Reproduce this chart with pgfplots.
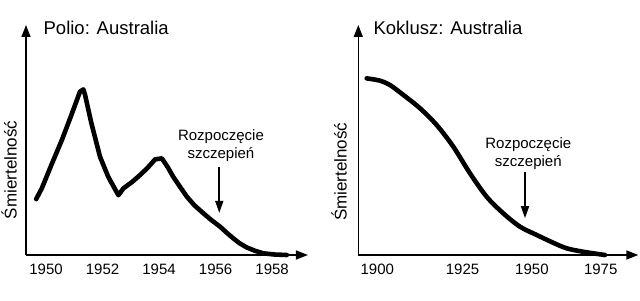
\documentclass[border=0pt]{standalone}
\usepackage{fontspec}
\setmainfont{Liberation Sans}
\usepackage{pgfplots}
\pgfplotsset{compat=1.18}
\usetikzlibrary{arrows.meta}

\tikzset{
  curve/.style={black, line width=4.6pt, line join=round, line cap=round},
  note/.style={font=\fontsize{15}{18}\selectfont, align=center},
  pointer/.style={line width=1.6pt, -{Triangle[length=12pt,width=8pt]}},
}
\pgfplotsset{
  sketch/.style={
    scale only axis,
    axis lines=left,
    axis line style={line width=1.6pt, -{Triangle[length=12pt,width=9pt]}},
    ytick=\empty,
    major tick length=0pt,
    ymin=0, ymax=100,
    height=230pt,
    tick label style={font=\fontsize{15}{18}\selectfont},
    xticklabel style={yshift=-5pt},
    /pgf/number format/assume math mode=true,
    /pgf/number format/1000 sep={},
    ylabel={Śmiertelność},
    ylabel style={font=\fontsize{17}{20}\selectfont, anchor=center},
    clip=false,
  },
}

\begin{document}
\begin{tikzpicture}
\useasboundingbox (0pt,0pt) rectangle (640pt,300pt);

% Polio
\begin{axis}[sketch,
  at={(26pt,45pt)}, anchor=south west,
  width=282pt,
  xmin=1949.29, xmax=1959.27,
  xtick={1950,1952,1954,1956,1958},
  ylabel style={at={(axis description cs:-0.06,0.37)}},
]
\addplot[curve, sharp plot] coordinates {
  (1949.65,24.3) (1949.85,29.0) (1950.20,39.5) (1950.56,50.0) (1950.90,61.0)
  (1951.20,71.0) (1951.32,72.0) (1951.38,69.6) (1951.60,57.5) (1951.91,42.7)
  (1952.20,34.0) (1952.56,26.0) (1952.74,29.0) (1953.05,31.8) (1953.33,34.8)
  (1953.60,38.0) (1953.86,41.6) (1954.10,42.0) (1954.30,38.3) (1954.50,34.0)
  (1954.75,29.5) (1954.98,25.4) (1955.25,21.6) (1955.57,18.1) (1955.85,15.2)
  (1956.16,12.3) (1956.40,9.6) (1956.63,7.2) (1956.85,5.1) (1957.10,3.3)
  (1957.40,1.8) (1957.70,0.7) (1958.10,0.2) (1958.52,0.0)
};
\node[note] at (axis cs:1956.19,47.4) {Rozpoczęcie\\szczepień};
\draw[pointer] (axis cs:1956.13,38.3) -- (axis cs:1956.13,18.3);
\node[anchor=base west, font=\fontsize{18.5}{22}\selectfont]
  at (axis description cs:0.05,0.957) {Polio: Australia};
\end{axis}

% Koklusz
\begin{axis}[sketch,
  at={(358.3pt,45pt)}, anchor=south west,
  width=280pt,
  xmin=1893.62, xmax=1987.61,
  xtick={1900,1928.6,1951.9,1975},
  xticklabels={1900,1925,1950,1975},
  ylabel style={at={(axis description cs:-0.069,0.362)}},
]
\addplot[curve, smooth, tension=0.5] coordinates {
  (1896.44,76.8) (1900.90,75.8) (1904.26,73.9) (1908.73,69.6) (1914.33,63.8)
  (1919.94,56.5) (1925.51,47.1) (1931.12,35.5) (1936.72,25.3) (1942.30,18.1)
  (1947.91,12.3) (1953.51,8.7) (1959.08,5.3) (1963.58,2.9) (1969.15,1.4)
  (1976.43,0.0)
};
\node[note] at (axis cs:1950.69,44.2) {Rozpoczęcie\\szczepień};
\draw[pointer] (axis cs:1949.58,36.2) -- (axis cs:1949.58,16.0);
\node[anchor=base west, font=\fontsize{18.5}{22}\selectfont]
  at (axis description cs:0.042,0.957) {Koklusz: Australia};
\end{axis}
\end{tikzpicture}
\end{document}
